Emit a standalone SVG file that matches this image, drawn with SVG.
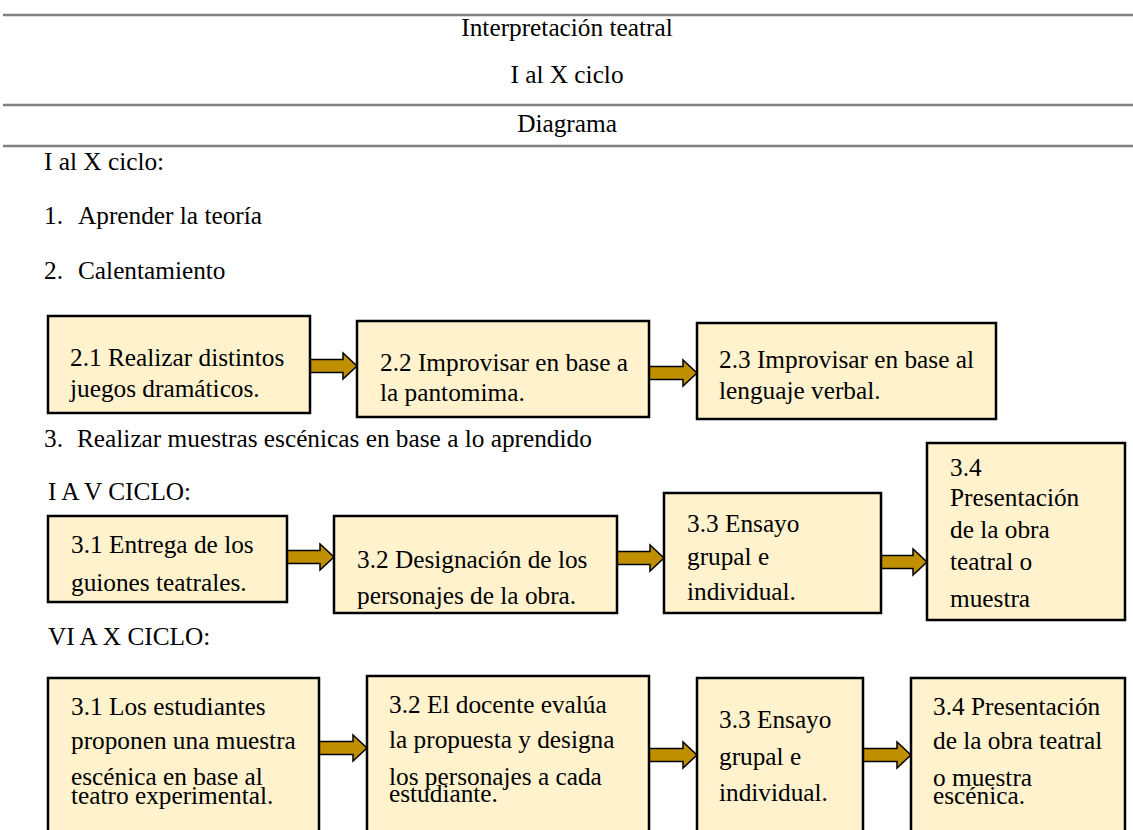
<svg xmlns="http://www.w3.org/2000/svg" width="1133" height="830" viewBox="0 0 1133 830">
<style>
text{font-family:"Liberation Serif","Times New Roman",serif;font-size:25.3px;fill:#000}
.c{text-anchor:middle}
.rule{stroke:#808080;stroke-width:2.5}
.box{fill:#FFF2CC;stroke:#000;stroke-width:2.5}
.arr{fill:#BF8F00;stroke:#000;stroke-width:1.5;stroke-linejoin:miter}
</style>
<rect width="1133" height="830" fill="#fff"/>
<g id="header">
<line class="rule" x1="3" y1="15" x2="1133" y2="15"/>
<text class="c" x="567" y="36">Interpretación teatral</text>
<text class="c" x="567" y="83">I al X ciclo</text>
<line class="rule" x1="3" y1="105" x2="1133" y2="105"/>
<text class="c" x="567" y="132">Diagrama</text>
<line class="rule" x1="3" y1="146" x2="1133" y2="146"/>
</g>
<g id="list">
<text x="44" y="170">I al X ciclo:</text>
<text x="44" y="224">1.<tspan x="78">Aprender la teoría</tspan></text>
<text x="44" y="279">2.<tspan x="78">Calentamiento</tspan></text>
<text x="44" y="447">3.<tspan x="77">Realizar muestras escénicas en base a lo aprendido</tspan></text>
<text x="48" y="500">I A V CICLO:</text>
<text x="48" y="645">VI A X CICLO:</text>
</g>
<g id="connectors">
<path class="arr" d="M310,359.5H343V353L357,366L343,379V372.5H310Z"/>
<path class="arr" d="M649,366.5H683V360L697,373L683,386V379.5H649Z"/>
<path class="arr" d="M287,550.5H320V544L334,557L320,570V563.5H287Z"/>
<path class="arr" d="M617,551.5H650V545L664,558L650,571V564.5H617Z"/>
<path class="arr" d="M881,555.5H913V549L927,562L913,575V568.5H881Z"/>
<path class="arr" d="M319,741.5H353V735L367,748L353,761V754.5H319Z"/>
<path class="arr" d="M649,748.5H683V742L697,755L683,768V761.5H649Z"/>
<path class="arr" d="M863,748.5H897V742L911,755L897,768V761.5H863Z"/>
</g>
<g id="n21"><rect class="box" x="48" y="316" width="262" height="97"/>
<text x="70" y="366">2.1 Realizar distintos</text><text x="70" y="397">juegos dramáticos.</text></g>
<g id="n22"><rect class="box" x="357" y="321" width="292" height="96"/>
<text x="380" y="371">2.2 Improvisar en base a</text><text x="380" y="401">la pantomima.</text></g>
<g id="n23"><rect class="box" x="697" y="323" width="299" height="96"/>
<text x="719" y="368">2.3 Improvisar en base al</text><text x="719" y="399">lenguaje verbal.</text></g>
<g id="a31"><rect class="box" x="48" y="516" width="239" height="86"/>
<text x="71" y="553">3.1 Entrega de los</text><text x="71" y="591">guiones teatrales.</text></g>
<g id="a32"><rect class="box" x="334" y="516" width="283" height="97"/>
<text x="357" y="568">3.2 Designación de los</text><text x="357" y="604">personajes de la obra.</text></g>
<g id="a33"><rect class="box" x="664" y="493" width="217" height="120"/>
<text x="687" y="532">3.3 Ensayo</text><text x="687" y="565">grupal e</text><text x="687" y="600">individual.</text></g>
<g id="a34"><rect class="box" x="927" y="443" width="198" height="177"/>
<text x="950" y="476">3.4</text><text x="950" y="506">Presentación</text><text x="950" y="538">de la obra</text><text x="950" y="570">teatral o</text><text x="950" y="607">muestra</text></g>
<g id="b31"><rect class="box" x="48" y="678" width="271" height="170"/>
<text x="71" y="715">3.1 Los estudiantes</text><text x="71" y="749">proponen una muestra</text><text x="71" y="785">escénica en base al</text><text x="71" y="804">teatro experimental.</text></g>
<g id="b32"><rect class="box" x="367" y="676" width="282" height="170"/>
<text x="389" y="713">3.2 El docente evalúa</text><text x="389" y="748">la propuesta y designa</text><text x="389" y="785">los personajes a cada</text><text x="389" y="802">estudiante.</text></g>
<g id="b33"><rect class="box" x="697" y="678" width="166" height="170"/>
<text x="719" y="728">3.3 Ensayo</text><text x="719" y="765">grupal e</text><text x="719" y="801">individual.</text></g>
<g id="b34"><rect class="box" x="911" y="678" width="214" height="170"/>
<text x="933" y="715">3.4 Presentación</text><text x="933" y="749">de la obra teatral</text><text x="933" y="786">o muestra</text><text x="933" y="804">escénica.</text></g>
</svg>
